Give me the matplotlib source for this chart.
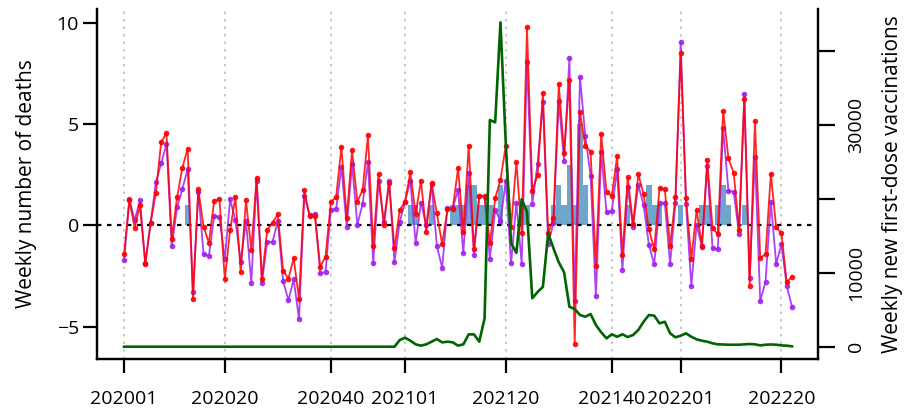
import matplotlib
matplotlib.use("Agg")
import matplotlib.pyplot as plt
import numpy as np

plt.rcParams['font.family'] = ['Open Sans', 'DejaVu Sans']

# week labels 2020-01 .. 2022-22 (2020 has 53 ISO weeks)
weeks = [f'2020{w:02d}' for w in range(1, 54)] + \
        [f'2021{w:02d}' for w in range(1, 53)] + \
        [f'2022{w:02d}' for w in range(1, 23)]

tick_weeks = ['202001', '202020', '202040', '202101', '202120', '202140', '202201', '202220']

deaths_red = [
    -1.43, 1.25, -0.12, 1.0, -1.91, 0.1, 1.6, 4.12, 4.54, -0.66,
    1.38, 2.85, 3.79, -3.65, 1.78, -0.07, -0.86, 1.22, 1.28, -2.67,
    -0.23, 1.4, -2.32, 1.23, -1.22, 2.34, -2.63, -0.23, 0.13, 0.54,
    -2.24, -2.63, -1.63, -3.65, 1.73, 0.46, 0.46, -2.04, -1.55, 1.15,
    1.4, 3.88, 0.35, 3.7, 1.17, 1.74, 4.44, -1.0, 2.55, 0.02,
    2.1, -1.14, 0.76, 1.17, 2.62, 0.56, 2.2, -0.35, 2.1, 0.59,
    -0.94, 0.79, 0.82, 2.83, -0.35, 3.93, -1.19, 1.45, 1.45, -0.89,
    1.33, 2.26, 3.93, -0.1, 3.14, -0.4, 9.78, 1.71, 2.49, 6.54,
    -0.4, 0.38, 6.96, 3.59, 7.18, -5.86, 5.58, 3.93, 3.64, -1.99,
    4.51, 1.66, 1.45, 3.41, -1.47, 2.37, 0.05, 2.52, 1.53, -0.2,
    -1.17, 1.83, 1.79, -1.02, 1.38, 8.49, 1.33, -1.66, 0.76, -1.0,
    3.24, -0.15, -0.43, 5.66, 3.31, 2.58, -0.23, 6.24, -2.98, 5.15,
    -1.6, -1.43, 2.55, -0.1, -0.4, -2.81, -2.53]

deaths_purple = [
    -1.73, 1.28, 0.26, 1.23, -1.88, 0.13, 2.12, 3.06, 4.02, -1.04,
    0.89, 1.81, 2.77, -3.31, 1.66, -1.43, -1.5, 0.46, 0.4, -1.68,
    1.28, 0.26, -1.79, 0.21, -2.83, 2.21, -2.83, -0.82, -0.82, 0.21,
    -2.75, -3.7, -2.67, -4.63, 1.45, 0.49, 0.58, -2.37, -2.3, 0.76,
    0.82, 2.88, -0.07, 3.03, 0.02, 1.07, 3.14, -1.88, 2.17, 0.16,
    2.2, -1.83, 0.18, 1.17, 2.2, -0.89, 1.12, 0.02, 2.06, -1.02,
    -2.09, 0.87, 0.87, 1.74, -1.35, 2.6, -1.47, 1.45, 1.42, -1.68,
    0.76, 0.23, 2.2, -1.88, 1.12, -1.91, 8.08, 1.05, 3.05, 6.07,
    -0.92, 0.13, 6.14, 3.19, 8.25, -3.72, 7.34, 4.4, 2.45, -3.49,
    3.6, 0.64, 0.71, 2.78, -2.21, 1.88, -0.08, 1.99, 1.0, -0.97,
    -1.93, 1.09, 1.09, -1.91, 1.09, 9.07, 1.05, -2.98, 0.02, -1.05,
    2.93, -1.14, -1.19, 4.79, 1.71, 1.65, -0.43, 6.49, -2.58, 3.36,
    -3.72, -2.78, 1.17, -1.89, -0.94, -3.0, -4.02]

# positive excess counts shown as bars (weeks not listed are 0)
bar_weeks = ['202013', '202102', '202103', '202106', '202110', '202111', '202112',
             '202113', '202114', '202115', '202116', '202117', '202119', '202123',
             '202124', '202129', '202130', '202131', '202132', '202133', '202134',
             '202135', '202143', '202147', '202148', '202149', '202201', '202205',
             '202206', '202208', '202209', '202210', '202213']
bar_values = [1, 1, 1, 1, 1, 1, 1, 2, 2, 1, 1, 1, 2, 1,
              1, 1, 2, 1, 3, 1, 5, 2, 1, 2, 1, 1, 1, 1,
              1, 1, 2, 1, 1]

vacc = [0] * 52 + [
    906, 1220, 815, 320, 140, 320, 680, 1040, 590, 680,
    590, 140, 320, 1670, 1670, 680, 3840, 30670, 30360, 43890,
    27500, 14000, 12700, 19950, 18270, 6550, 7400, 8100, 15340, 13310,
    11420, 10070, 5410, 5100, 4290, 4060, 4420, 2940, 1950, 1130,
    1680, 1350, 1680, 1310, 1580, 2260, 3380, 4290, 4200, 3160,
    3380, 1810, 1270, 1490, 1810, 1350, 1000, 810, 680, 460,
    320, 300, 270, 270, 270, 320, 360, 320, 180, 270,
    300, 270, 180, 140, 50]

x = np.arange(len(weeks))
bar_x = [weeks.index(w) for w in bar_weeks]
tick_x = [weeks.index(w) for w in tick_weeks]

fig = plt.figure(figsize=(9.06, 4.11), dpi=100)
ax = fig.add_axes([0.1071, 0.1265, 0.7958, 0.8515])

ax.bar(bar_x, bar_values, width=1.0, color='#6fa6cc', zorder=1)
ax.axhline(0, color='black', linestyle=(0, (2, 2.5)), linewidth=1.6, zorder=2)
ax.plot(x, deaths_purple, color='#a020f0', marker='o', markersize=3.0,
        linewidth=1.3, alpha=0.85, zorder=3)
ax.plot(x, deaths_red, color='#ff0000', marker='o', markersize=3.0,
        linewidth=1.3, alpha=0.85, zorder=4)

ax.set_xlim(-5.1, 130.9)
ax.set_ylim(-6.6, 10.68)
ax.set_yticks([-5, 0, 5, 10])
ax.set_xticks(tick_x)
ax.set_xticklabels(tick_weeks)
ax.grid(axis='x', linestyle=(0, (1.5, 3)), color='#c0c0c0', linewidth=1.2)
ax.set_axisbelow(True)
ax.set_ylabel('Weekly number of deaths', fontsize=15, labelpad=14)

ax2 = ax.twinx()
ax2.plot(x, vacc, color='#006400', linewidth=1.9, zorder=5)
ax2.set_ylim(-1664, 45690)
ax2.set_yticks([0, 10000, 20000, 30000, 40000])
ax2.set_yticklabels(['0', '10000', '', '30000', ''])
ax2.set_ylabel('Weekly new first-dose vaccinations', fontsize=15, labelpad=12)

for a in (ax, ax2):
    a.spines['top'].set_visible(False)
    for s in a.spines.values():
        s.set_linewidth(1.6)
    a.tick_params(width=1.6, length=10, labelsize=14)

ax.tick_params(axis='x', pad=12)
ax.tick_params(axis='y', pad=3)
ax2.tick_params(axis='y', pad=9, length=12)
for lab in ax2.get_yticklabels():
    lab.set_rotation(90)
    lab.set_va('center')

fig.savefig('out.png', dpi=100)
